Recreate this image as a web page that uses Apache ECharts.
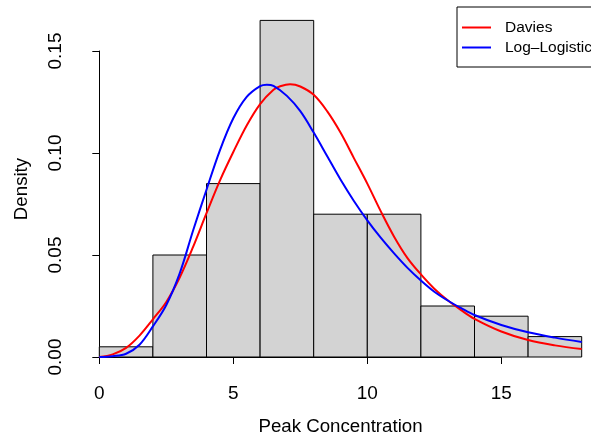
<!DOCTYPE html>
<html>
<head>
<meta charset="utf-8">
<script src="https://cdn.jsdelivr.net/npm/echarts@6/dist/echarts.min.js"></script>
<style>
  html, body { margin: 0; padding: 0; background: #fff; }
  #chart { width: 591px; height: 436px; }
</style>
</head>
<body>
<div id="chart"></div>
<script>
// Histogram of peak concentration (density scale), bin width 2
const binEdges = [0, 2, 4, 6, 8, 10, 12, 14, 16, 18];
const binDensity = [0.005, 0.05, 0.085, 0.165, 0.07, 0.07, 0.025, 0.02, 0.01];

// Fitted density curves (x positions, density values)
const daviesX = [0, 0.5, 1, 1.5, 2, 2.5, 3, 3.5, 4, 4.5, 5, 5.5, 6, 6.5, 6.75, 7.12, 7.5, 8, 8.5, 9, 9.5,
                 10, 10.5, 11, 11.5, 12, 12.5, 13, 13.5, 14, 15, 16, 17, 18];
const daviesY = [0, 0.0013, 0.0045, 0.0105, 0.0185, 0.027, 0.039, 0.054, 0.0705, 0.0865,
                 0.1005, 0.1135, 0.124, 0.131, 0.1327, 0.1337, 0.1326, 0.1285, 0.1205, 0.110, 0.0975,
                 0.085, 0.0715, 0.059, 0.0485, 0.0405, 0.0335, 0.0278, 0.023, 0.0187,
                 0.0125, 0.0083, 0.0057, 0.0039];
const logLogisticX = [0, 0.5, 1, 1.5, 2, 2.5, 3, 3.5, 4, 4.5, 5, 5.5, 6, 6.25, 6.5, 7, 7.5, 8, 8.5, 9, 9.5,
                      10, 10.5, 11, 11.5, 12, 12.5, 13, 13.5, 14, 15, 16, 17, 18];
const logLogisticY = [0, 0.0004, 0.0016, 0.006, 0.015, 0.0255, 0.041, 0.062, 0.082, 0.1013,
                      0.117, 0.1275, 0.1328, 0.1335, 0.1329, 0.128, 0.1205, 0.110, 0.0985, 0.087, 0.0765,
                      0.067, 0.0585, 0.0508, 0.0437, 0.0375, 0.032, 0.0277, 0.024, 0.0206,
                      0.0157, 0.0121, 0.0095, 0.0074];

// Axis ticks
const xTicks = { min: 0, max: 15, step: 5 };
const yTicks = { min: 0, max: 0.15, step: 0.05 };

const seriesNames = ['Davies', 'Log\u2013Logistic'];
const FONT = '"Liberation Sans", Arial, Helvetica, sans-serif';

const bins = binDensity.map((d, i) => [binEdges[i], binEdges[i + 1], d]);
const pairs = (xs, ys) => xs.map((x, i) => [x, ys[i]]);

const chart = echarts.init(document.getElementById('chart'), null, { renderer: 'canvas' });

chart.setOption({
  animation: false,
  backgroundColor: '#ffffff',
  textStyle: { fontFamily: FONT, color: '#000' },
  grid: [
    // plotting area: x 0..18, y 0..0.17
    { left: 99.3, right: 9.3, top: 10.2, bottom: 79, outerBoundsMode: 'none', containLabel: false },
    // axis frame covering only the labelled tick range
    { left: 99.3, width: 402, top: 51, height: 306, outerBoundsMode: 'none', containLabel: false }
  ],
  xAxis: [
    { gridIndex: 0, type: 'value', min: 0, max: 18, show: false },
    {
      gridIndex: 1, type: 'value', min: xTicks.min, max: xTicks.max, interval: xTicks.step,
      offset: 14.7,
      axisLine: { show: true, lineStyle: { color: '#000', width: 1 } },
      axisTick: { show: true, length: 7, lineStyle: { color: '#000', width: 1 } },
      axisLabel: { fontSize: 19, color: '#000', margin: 13, fontFamily: FONT },
      splitLine: { show: false }
    }
  ],
  yAxis: [
    { gridIndex: 0, type: 'value', min: 0, max: 0.17, show: false },
    {
      gridIndex: 1, type: 'value', min: yTicks.min, max: yTicks.max, interval: yTicks.step,
      offset: 19.3,
      axisLine: { show: true, lineStyle: { color: '#000', width: 1 } },
      axisTick: { show: true, length: 7, lineStyle: { color: '#000', width: 1 } },
      axisLabel: {
        fontSize: 19, color: '#000', margin: 15, rotate: 90, fontFamily: FONT,
        formatter: v => v.toFixed(2)
      },
      splitLine: { show: false }
    }
  ],
  legend: {
    orient: 'vertical',
    left: 457,
    top: 7,
    data: seriesNames,
    icon: 'rect',
    itemWidth: 29,
    itemHeight: 2,
    itemGap: 4,
    padding: [12.5, 40, 11.5, 5],
    borderColor: '#000',
    borderWidth: 1,
    backgroundColor: '#fff',
    textStyle: { fontSize: 15.5, color: '#000', fontFamily: FONT, lineHeight: 16, padding: [0, 0, 0, 9] }
  },
  graphic: [
    {
      type: 'text', x: 340.5, y: 427,
      style: { text: 'Peak Concentration', font: '18.7px ' + FONT, fill: '#000', align: 'center', verticalAlign: 'middle' }
    },
    {
      type: 'text', x: 22, y: 189, rotation: Math.PI / 2,
      style: { text: 'Density', font: '18.7px ' + FONT, fill: '#000', align: 'center', verticalAlign: 'middle' }
    }
  ],
  series: [
    {
      type: 'custom',
      xAxisIndex: 0, yAxisIndex: 0,
      z: 2,
      silent: true,
      data: bins,
      renderItem: (params, api) => {
        const p0 = api.coord([api.value(0), api.value(2)]);
        const p1 = api.coord([api.value(1), 0]);
        return {
          type: 'rect',
          shape: { x: p0[0], y: p0[1], width: p1[0] - p0[0], height: p1[1] - p0[1] },
          style: { fill: '#D3D3D3', stroke: '#000', lineWidth: 1 }
        };
      }
    },
    {
      name: seriesNames[0], type: 'line', xAxisIndex: 0, yAxisIndex: 0, z: 4,
      data: pairs(daviesX, daviesY), smooth: 0.35, showSymbol: false, symbol: 'none',
      color: '#FF0000', lineStyle: { color: '#FF0000', width: 2 }
    },
    {
      name: seriesNames[1], type: 'line', xAxisIndex: 0, yAxisIndex: 0, z: 5,
      data: pairs(logLogisticX, logLogisticY), smooth: 0.35, showSymbol: false, symbol: 'none',
      color: '#0000FF', lineStyle: { color: '#0000FF', width: 2 }
    }
  ]
});
</script>
</body>
</html>
